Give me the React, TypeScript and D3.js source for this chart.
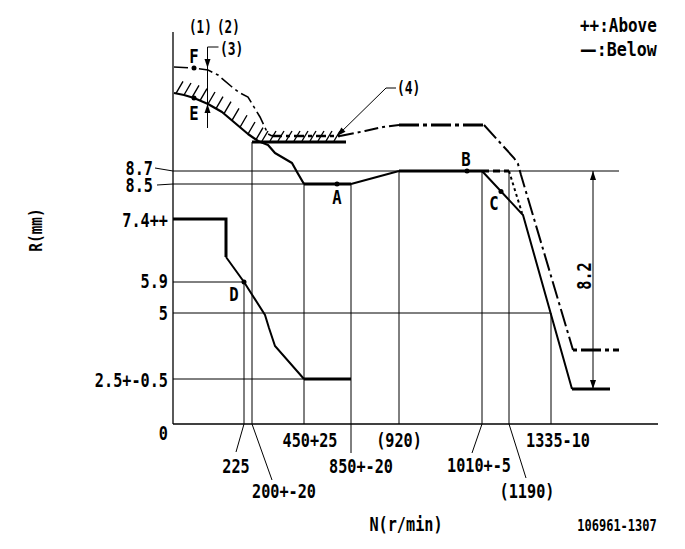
import React from "react";
import * as d3 from "d3";

type P = [number, number];

// ---------- data (x in drawing units along the N axis, y in R mm) ----------
const rTickValues = [0, 2.5, 5, 5.9, 7.4, 8.5, 8.7];
const rTickLabels = ["0", "2.5+-0.5", "5", "5.9", "7.4++", "8.5", "8.7"];

const rRefLevels = [8.7, 8.5, 5.9, 5, 2.5];
const rRefEnds = [89.2, 26.2, 14.2, 75.6, 26.2];

const nStations = [14.2, 15.8, 26.2, 35.6, 45.2, 61.8, 67.2, 75.6];
const nLabels = ["225", "200+-20", "450+25", "850+-20", "(920)", "1010+-5", "(1190)", "1335-10"];
const nGuideTops = [5.9, 9.425, 8.5, 8.5, 8.7, 8.7, 8.7, 5];

// full-load (solid) governor line
const fullLoadCurve: P[] = [[0.2, 10.65], [2.2, 10.6], [4.2, 10.525], [7, 10.375], [9.8, 10.175], [12.4, 9.9], [15, 9.625], [17, 9.45], [19, 9.35], [20.4, 9.15], [23.8, 8.9], [24.8, 8.685], [26.2, 8.5]];
const plateauA: P[] = [[26.2, 8.5], [35.6, 8.5]];
const rampAB: P[] = [[35.6, 8.5], [45.2, 8.7]];
const plateauB: P[] = [[45.2, 8.7], [61.8, 8.7]];
const droop: P[] = [[61.8, 8.7], [70, 7.526], [79.8, 1.944]];
const droopTail: P[] = [[79.8, 1.944], [87.4, 1.944]];

// idle (lower) line
const idleStep: P[] = [[0, 7.4], [10.6, 7.4], [10.6, 6.495]];
const idleCurve: P[] = [[10.6, 6.495], [14.2, 5.9], [18.4, 4.924], [19.2, 4.432], [20.4, 3.75], [26.2, 2.5]];
const idleTail: P[] = [[26.2, 2.5], [35.6, 2.5]];

// (4) stopper line
const stopper: P[] = [[15.8, 9.425], [34.6, 9.425]];

// upper dash-dot line
const ddCurve: P[] = [[0.2, 11.3], [4.2, 11.275], [7, 11.225], [9, 11.1], [11.8, 10.8], [13.4, 10.65], [15, 10.55], [17.4, 10.05], [19, 9.625], [19.8, 9.575]];
const ddFlat1: P[] = [[19.8, 9.575], [33.4, 9.575]];
const ddRise: P[] = [[33.4, 9.575], [38.4, 9.7], [42, 9.8], [45.2, 9.85]];
const ddFlat2: P[] = [[45.2, 9.85], [62.2, 9.85]];
const ddFall: P[] = [[62.2, 9.85], [68.2, 9.025], [69, 8.875], [69.6, 8.638], [80, 3.598]];
const ddTail: P[] = [[80, 3.598], [89.2, 3.598]];

// dashed / dotted near B
const dashedB: P[] = [[61.8, 8.7], [67.2, 8.7]];
const dottedB: P[] = [[67.2, 8.7], [69.8, 7.589]];

// named points
const pointNames = ["A", "B", "C", "D", "E", "F"];
const pointCoords: P[] = [[32.8, 8.5], [58.8, 8.7], [65.6, 8.267], [14.2, 5.9], [4.2, 10.525], [4.2, 11.275]];

// (3) measuring line and 8.2 dimension
const mark3U = 6.9;
const mark3Range = [11.8, 9.775];
const mark3Tips = [11.275, 10.375];
const dimU = 84;
const dimRange = [8.7, 1.944];
const dimLabel = "8.2";

const axisTopR = 12.175;

// ---------- rendering ----------
const FONT = "'DejaVu Sans Mono', monospace";

function T({ x, y, children, anchor = "start", size = 20, sx = 0.76, rot = 0, len }: any) {
  return (
    <text
      transform={`translate(${x},${y}) rotate(${rot}) scale(${sx},1)`}
      textAnchor={anchor}
      fontSize={size}
      fontFamily={FONT}
      fontWeight="bold"
      fill="#000"
      textLength={len}
      lengthAdjust={len ? "spacingAndGlyphs" : undefined}
    >
      {children}
    </text>
  );
}

function arrowHead(tx: number, ty: number, fx: number, fy: number, L = 9, W = 3) {
  const dx = tx - fx, dy = ty - fy;
  const d = Math.hypot(dx, dy) || 1;
  const ux = dx / d, uy = dy / d;
  const bx = tx - ux * L, by = ty - uy * L;
  const px = -uy * W, py = ux * W;
  return `M${tx},${ty}L${bx + px},${by + py}L${bx - px},${by - py}Z`;
}

export default function App() {
  const W = 685, H = 549;
  const x = d3.scaleLinear().domain([0, 97]).range([173, 658]);
  const y = d3.scaleLinear().domain([0, 2.5, 5, 5.9, 7.4, 8.5, 8.7, 12.7]).range([424, 379, 313, 282, 219, 184, 171, 11]);
  const line = d3.line<P>().x((d) => x(d[0])).y((d) => y(d[1]));

  const x0 = x(0), y0 = y(0);

  // hatch along full-load curve
  const curvePx = fullLoadCurve.map((d) => [x(d[0]), y(d[1])] as P);
  const yOnCurve = (px: number) => {
    for (let i = 0; i < curvePx.length - 1; i++) {
      const a = curvePx[i], b = curvePx[i + 1];
      if (px >= a[0] && px <= b[0]) return a[1] + ((px - a[0]) / (b[0] - a[0])) * (b[1] - a[1]);
    }
    return curvePx[curvePx.length - 1][1];
  };
  const hatch: string[] = [];
  d3.range(0.6, 16.9, 1.6).forEach((u) => {
    const px = x(u), py = yOnCurve(px);
    hatch.push(`M${px},${py}L${px + 7},${py - 12}`);
  });
  d3.range(17.8, 33.6, 1.6).forEach((u) => {
    const px = x(u), py = y(stopper[0][1]);
    hatch.push(`M${px},${py - 1}L${px + 6},${py - 11}`);
  });

  const rLayout: Record<string, { rx: number; dy: number; leader?: number[] }> = {
    "0": { rx: 168, dy: 16 },
    "2.5+-0.5": { rx: 168, dy: 8 },
    "5": { rx: 168, dy: 7 },
    "5.9": { rx: 168, dy: 6 },
    "7.4++": { rx: 168, dy: 8 },
    "8.5": { rx: 153, dy: 8, leader: [157, 1, 0, 0] },
    "8.7": { rx: 153, dy: 4, leader: [155, -3, 0, 0] },
  };

  const nLayout = [
    { dx: -8, ty: 473, leader: [-8, 28] },
    { dx: 32, ty: 498, leader: [20, 56] },
    { dx: 6, ty: 447 },
    { dx: 10, ty: 473, ext: 29 },
    { dx: 0, ty: 447 },
    { dx: -3, ty: 472, leader: [-10, 29] },
    { dx: 18, ty: 498, leader: [17, 54] },
    { dx: 7, ty: 447 },
  ];

  const pointLabelOffset: Record<string, number[]> = {
    A: [0, 20], B: [-1, -5], C: [-7, 19], D: [-10, 19], E: [0, 22], F: [0, -5],
  };

  const ddDash = "20 4 4 4";

  return (
    <svg width={W} height={H} style={{ position: "absolute", left: 0, top: 0, background: "#fff" }}>
      <rect width={W} height={H} fill="#fff" />
      <g stroke="#000" fill="none">
        {/* axes */}
        <line x1={x0} y1={y(axisTopR)} x2={x0} y2={y0} strokeWidth={1.3} />
        <line x1={x0} y1={y0} x2={x(97)} y2={y0} strokeWidth={1.3} />

        {/* horizontal reference lines */}
        {rRefLevels.map((r, i) => (
          <line key={"rh" + i} x1={x0} y1={y(r)} x2={x(rRefEnds[i])} y2={y(r)} strokeWidth={1} />
        ))}

        {/* vertical guides */}
        {nStations.map((u, i) => (
          <line key={"nv" + i} x1={x(u)} y1={y(nGuideTops[i])} x2={x(u)} y2={y0 + (nLayout[i].ext || 0)} strokeWidth={1} />
        ))}
        {nStations.map((u, i) => {
          const l = nLayout[i].leader;
          return l ? <line key={"nl" + i} x1={x(u)} y1={y0} x2={x(u) + l[0]} y2={y0 + l[1]} strokeWidth={1} /> : null;
        })}

        {/* R label leaders */}
        {rTickValues.map((r, i) => {
          const lay = rLayout[rTickLabels[i]];
          return lay.leader ? (
            <line key={"rl" + i} x1={lay.leader[0]} y1={y(r) + lay.leader[1]} x2={x0} y2={y(r)} strokeWidth={1} />
          ) : null;
        })}

        {/* hatch */}
        <path d={hatch.join("")} strokeWidth={1.4} />

        {/* full-load solid */}
        <path d={line(fullLoadCurve)!} strokeWidth={2.2} strokeLinejoin="round" />
        <path d={line(plateauA)!} strokeWidth={3} />
        <path d={line(rampAB)!} strokeWidth={2} />
        <path d={line(plateauB)!} strokeWidth={3} />
        <path d={line(droop)!} strokeWidth={2} />
        <path d={line(droopTail)!} strokeWidth={3} />

        {/* idle */}
        <path d={line(idleStep)!} strokeWidth={3} />
        <path d={line(idleCurve)!} strokeWidth={2} />
        <path d={line(idleTail)!} strokeWidth={3} />

        {/* stopper (4) */}
        <path d={line(stopper)!} strokeWidth={3} />

        {/* dash-dot upper */}
        <path d={line(ddCurve)!} strokeWidth={1.6} strokeDasharray="14 4 3 4" />
        <path d={line(ddFlat1)!} strokeWidth={2.5} strokeDasharray="10 4 4 4" />
        <path d={line(ddRise)!} strokeWidth={2} strokeDasharray="14 4 3 4" />
        <path d={line(ddFlat2)!} strokeWidth={3} strokeDasharray={ddDash} />
        <path d={line(ddFall)!} strokeWidth={2} strokeDasharray="18 4 3 4" />
        <path d={line(ddTail)!} strokeWidth={3} strokeDasharray={ddDash} strokeDashoffset={-8} />

        <path d={line(dashedB)!} strokeWidth={3} strokeDasharray="7 4" />
        <path d={line(dottedB)!} strokeWidth={2} strokeDasharray="3 3" />

        {/* (3) measuring line */}
        <line x1={x(mark3U)} y1={y(mark3Range[0])} x2={x(mark3U)} y2={y(mark3Range[1])} strokeWidth={1} />
        <line x1={x(mark3U)} y1={y(mark3Range[0])} x2={x(mark3U) + 11} y2={y(mark3Range[0])} strokeWidth={1} />

        {/* 8.2 dimension */}
        <line x1={x(dimU)} y1={y(dimRange[0])} x2={x(dimU)} y2={y(dimRange[1])} strokeWidth={1} />

        {/* (4) leader */}
        <path d={`M${x(42.6)},${88}L${x(44.6)},${88}`} strokeWidth={1} />
        <path d={`M${x(42.6)},${88}L${x(32.8)},${136}`} strokeWidth={1} />
      </g>

      {/* arrowheads */}
      <g fill="#000" stroke="none">
        <path d={arrowHead(x(mark3U), y(mark3Tips[0]), x(mark3U), y(mark3Tips[0]) - 10)} />
        <path d={arrowHead(x(mark3U), y(mark3Tips[1]), x(mark3U), y(mark3Tips[1]) + 10)} />
        <path d={arrowHead(x(dimU), y(dimRange[0]), x(dimU), y(dimRange[0]) + 10)} />
        <path d={arrowHead(x(dimU), y(dimRange[1]), x(dimU), y(dimRange[1]) - 10)} />
        <path d={arrowHead(x(32.8), 136, x(42.6), 88)} />
        {pointCoords.map((p, i) => (
          <circle key={"pt" + i} cx={x(p[0])} cy={y(p[1])} r={2.5} />
        ))}
      </g>

      {/* texts */}
      {rTickValues.map((r, i) => {
        const lay = rLayout[rTickLabels[i]];
        return (
          <T key={"rt" + i} x={lay.rx} y={y(r) + lay.dy} anchor="end">
            {rTickLabels[i]}
          </T>
        );
      })}
      {nStations.map((u, i) => (
        <T key={"nt" + i} x={x(u) + nLayout[i].dx} y={nLayout[i].ty} anchor="middle">
          {nLabels[i]}
        </T>
      ))}
      {pointNames.map((n, i) => {
        const o = pointLabelOffset[n];
        return (
          <T key={"pn" + i} x={x(pointCoords[i][0]) + o[0]} y={y(pointCoords[i][1]) + o[1]} anchor="middle" size={20} sx={0.78}>
            {n}
          </T>
        );
      })}
      <T x={189} y={33} size={18} sx={0.7}>(1)</T>
      <T x={217} y={33} size={18} sx={0.7}>(2)</T>
      <T x={220} y={55} size={18} sx={0.72}>(3)</T>
      <T x={397} y={94} size={18} sx={0.72}>(4)</T>
      <T x={591} y={276} anchor="middle" rot={-90}>{dimLabel}</T>
      <T x={580} y={32} len={101}>++:Above</T>
      <text transform="translate(580,56) scale(0.76,1)" fontSize={20} fontWeight="bold" fill="#000" textLength={101} lengthAdjust="spacingAndGlyphs">
        <tspan fontFamily="'DejaVu Sans'">—</tspan>
        <tspan fontFamily={FONT}>:Below</tspan>
      </text>
      <T x={42} y={230} anchor="middle" rot={-90} size={18} sx={0.8}>R(mm)</T>
      <T x={406} y={531} anchor="middle">N(r/min)</T>
      <T x={617} y={531} anchor="middle" size={16} sx={0.75}>106961-1307</T>
    </svg>
  );
}
